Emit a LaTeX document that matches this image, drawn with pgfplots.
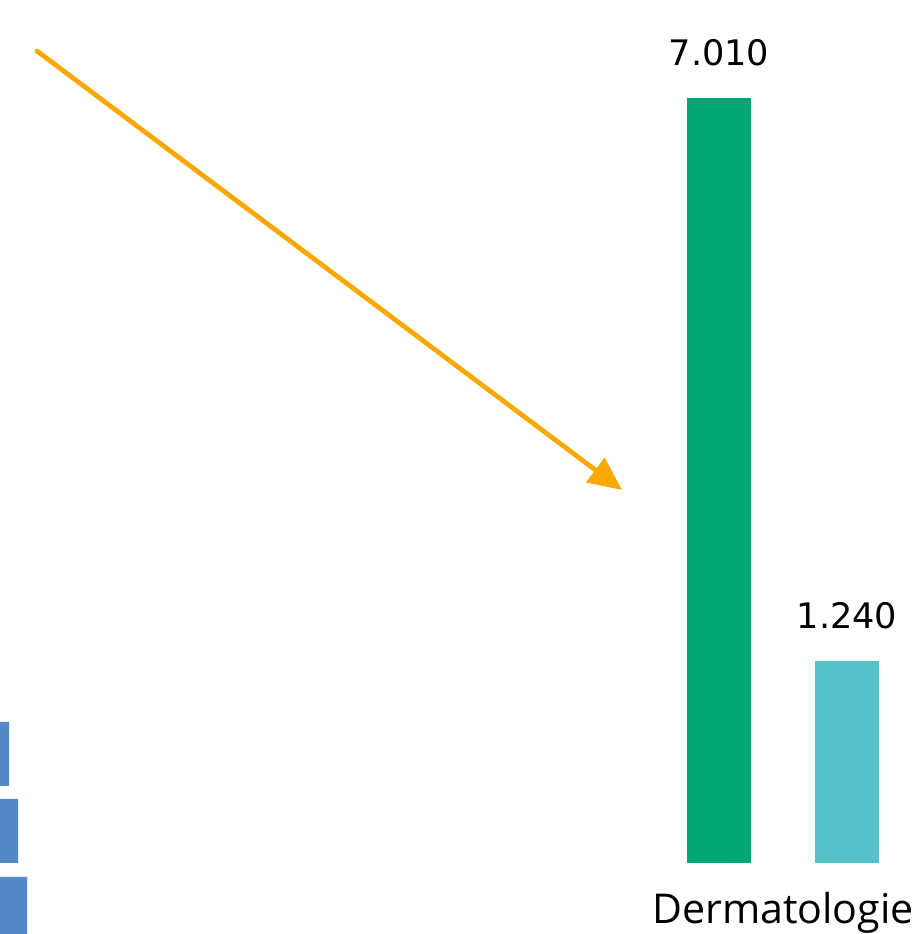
\documentclass[border=0pt]{standalone}
\usepackage{pgfplots}
\pgfplotsset{compat=1.18}
\usepackage{fontspec}
\setmainfont{Open Sans}
\newfontfamily\numfont{DejaVu Sans}
\usetikzlibrary{arrows.meta}
\definecolor{cgreen}{RGB}{0,167,116}
\definecolor{cteal}{RGB}{84,194,203}
\definecolor{cblue}{RGB}{83,135,200}
\definecolor{corange}{RGB}{250,168,0}
\pgfplotsset{frame/.style={width=9.21cm,height=9.34cm,scale only axis,hide axis,xmin=0,xmax=921,at={(0,0)},anchor=south west}}
\begin{document}
\begin{tikzpicture}
% background frame: pixel coordinates, blue horizontal bars
\begin{axis}[frame,ymin=0,ymax=934,xbar,bar width=64,clip=true]
\path (rel axis cs:0,0) rectangle (rel axis cs:1,1);
\addplot[fill=cblue,draw=none] coordinates {(9,180) (18,103) (27,25)};
\end{axis}
% arrow
\begin{axis}[frame,ymin=0,ymax=934,clip=false]
\addplot[draw=corange,line width=1.35pt,line cap=round,-{Triangle[length=9.5pt,width=8.5pt,line cap=butt]}] coordinates {(37,883) (622,444)};
\end{axis}
% green bar
\begin{axis}[frame,ymin=-650.6,ymax=7908,ybar,bar width=64,clip=false,
  nodes near coords={\numfont\fontsize{10}{12}\selectfont 7.010},
  every node near coord/.append style={yshift=5.7pt}]
\addplot[fill=cgreen,draw=none] coordinates {(719,7010)};
\end{axis}
% teal bar
\begin{axis}[frame,ymin=-435.8,ymax=5297.6,ybar,bar width=64,clip=false,
  nodes near coords={\numfont\fontsize{10}{12}\selectfont 1.240},
  every node near coord/.append style={yshift=5.7pt}]
\addplot[fill=cteal,draw=none] coordinates {(847,1240)};
\end{axis}
% category label
\begin{axis}[frame,ymin=0,ymax=934]
\node[anchor=base,inner sep=0pt,font=\fontsize{11.7}{14}\selectfont] at (axis cs:783,11) {Dermatologie};
\end{axis}
\end{tikzpicture}
\end{document}
